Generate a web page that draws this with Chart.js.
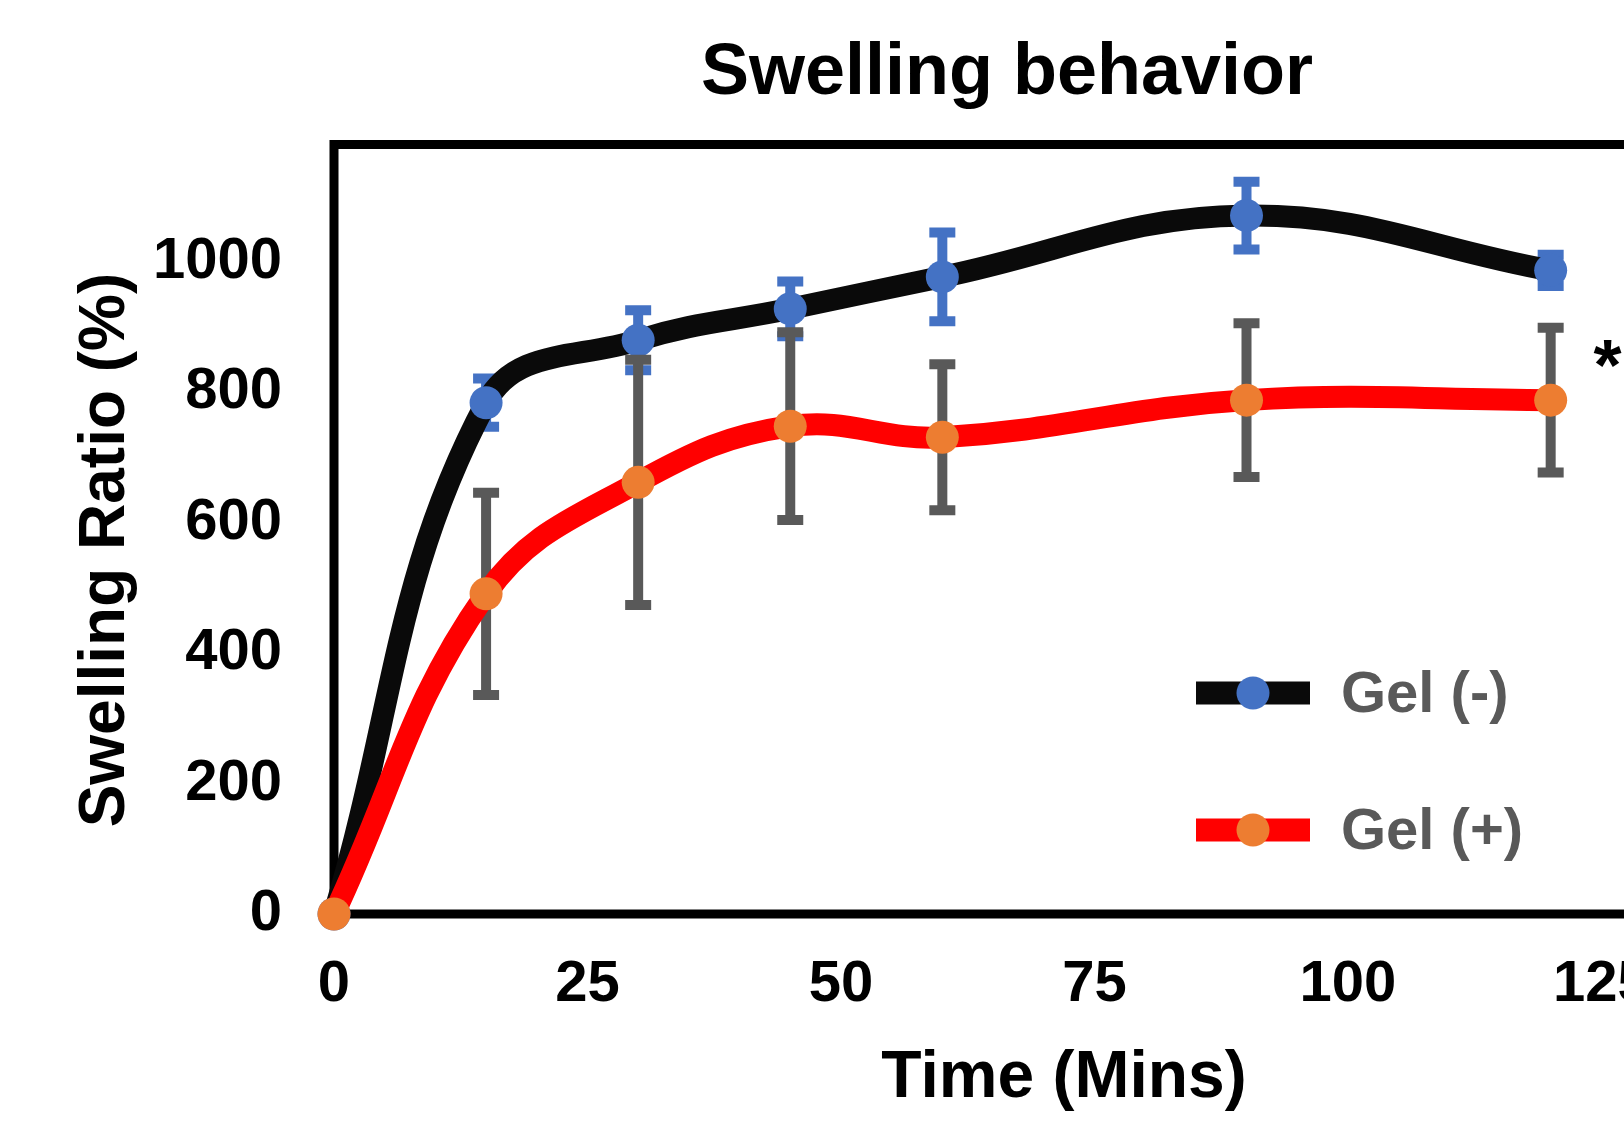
<!DOCTYPE html>
<html>
<head>
<meta charset="utf-8">
<title>Swelling behavior</title>
<script src="https://cdn.jsdelivr.net/npm/chart.js@4.4.1/dist/chart.umd.min.js"></script>
<style>
  html, body { margin: 0; padding: 0; overflow: hidden; background: #fff; }
  #wrap { position: absolute; left: 0; top: 0; width: 1820px; height: 1123px; }
</style>
</head>
<body>
<div id="wrap"><canvas id="swellingChart" width="1820" height="1123"></canvas></div>
<script>
// values (mean and error bar half-length)
const times = [0, 15, 30, 45, 60, 90, 120];
const gelMinus = [0, 784, 880, 928, 977, 1071, 987];
const gelMinusSd = [0, 37, 46, 42, 68, 52, 24];
const gelPlus = [0, 491, 662, 748, 731, 788, 788];
const gelPlusSd = [0, 155, 188, 144, 112, 118, 111];

const xTicks = [0, 25, 50, 75, 100, 125];
const yTicks = [0, 200, 400, 600, 800, 1000];

// significance mark next to the last time point
const starTime = 125.6;
const starValue = 860;

const FONT = '"Liberation Sans", Arial, sans-serif';
Chart.defaults.font.family = FONT;

function toPoints(values) {
    return times.map((t, i) => ({ x: t, y: values[i] }));
}

// black frame round the plot area
const framePlugin = {
    id: 'frame',
    beforeDatasetsDraw(chart) {
        const { ctx, chartArea } = chart;
        ctx.save();
        ctx.strokeStyle = '#000';
        ctx.lineWidth = 9;
        ctx.strokeRect(chartArea.left, chartArea.top, chartArea.right - chartArea.left, chartArea.bottom - chartArea.top);
        ctx.restore();
    }
};

// error bars, drawn under each dataset's line and markers
const errorBarPlugin = {
    id: 'errorBars',
    beforeDatasetDraw(chart, args) {
        const ds = chart.data.datasets[args.index];
        if (!ds.errors) return;
        const xs = chart.scales.x;
        const ys = chart.scales.y;
        const ctx = chart.ctx;
        ctx.save();
        ctx.strokeStyle = ds.errorColor;
        ctx.lineWidth = 10;
        ds.data.forEach((p, i) => {
            const sd = ds.errors[i];
            if (!sd) return;
            const x = xs.getPixelForValue(p.x);
            const top = ys.getPixelForValue(p.y + sd);
            const bot = ys.getPixelForValue(p.y - sd);
            ctx.beginPath();
            ctx.moveTo(x, top);
            ctx.lineTo(x, bot);
            ctx.moveTo(x - 13, top);
            ctx.lineTo(x + 13, top);
            ctx.moveTo(x - 13, bot);
            ctx.lineTo(x + 13, bot);
            ctx.stroke();
        });
        ctx.restore();
    }
};

// titles, legend inside the plot, and the asterisk
const overlayPlugin = {
    id: 'overlay',
    afterDatasetsDraw(chart) {
        const ctx = chart.ctx;
        ctx.save();

        ctx.fillStyle = '#000';
        ctx.font = 'bold 72px ' + FONT;
        ctx.textAlign = 'center';
        ctx.textBaseline = 'alphabetic';
        ctx.fillText('Swelling behavior', 1007, 94);

        // y axis title, a little below the middle of the axis as in the figure
        ctx.save();
        ctx.translate(106, 550);
        ctx.rotate(-Math.PI / 2);
        ctx.font = 'bold 64px ' + FONT;
        ctx.textBaseline = 'middle';
        ctx.fillText('Swelling Ratio (%)', 0, 0);
        ctx.restore();

        // legend rows in dataset order
        chart.data.datasets.forEach((ds, i) => {
            const cy = 693 + i * 137;
            ctx.fillStyle = ds.borderColor;
            ctx.fillRect(1196, cy - 11.5, 114, 23);
            ctx.beginPath();
            ctx.arc(1253, cy, 16.5, 0, Math.PI * 2);
            ctx.fillStyle = ds.pointBackgroundColor;
            ctx.fill();
            ctx.fillStyle = '#595959';
            ctx.font = 'bold 58px ' + FONT;
            ctx.textAlign = 'left';
            ctx.fillText(ds.label, 1341, cy + 19);
        });

        // asterisk
        ctx.font = 'bold 72px ' + FONT;
        ctx.fillStyle = '#000';
        ctx.textAlign = 'center';
        const m = ctx.measureText('*');
        const sx = chart.scales.x.getPixelForValue(starTime);
        const sy = chart.scales.y.getPixelForValue(starValue);
        ctx.fillText('*', sx, sy + (m.actualBoundingBoxAscent - m.actualBoundingBoxDescent) / 2);

        ctx.restore();
    }
};

new Chart(document.getElementById('swellingChart'), {
    type: 'line',
    data: {
        datasets: [
            {
                label: 'Gel (-)',
                data: toPoints(gelMinus),
                borderColor: '#0a0a0a',
                borderWidth: 22,
                borderCapStyle: 'round',
                borderJoinStyle: 'round',
                tension: 0.4,
                pointRadius: 16.5,
                pointHoverRadius: 16.5,
                pointBorderWidth: 0,
                pointBackgroundColor: '#4472c4',
                clip: false,
                order: 2,
                errors: gelMinusSd,
                errorColor: '#4472c4'
            },
            {
                label: 'Gel (+)',
                data: toPoints(gelPlus),
                borderColor: '#ff0000',
                borderWidth: 22,
                borderCapStyle: 'round',
                borderJoinStyle: 'round',
                tension: 0.4,
                pointRadius: 16.5,
                pointHoverRadius: 16.5,
                pointBorderWidth: 0,
                pointBackgroundColor: '#ed7d31',
                clip: false,
                order: 1,
                errors: gelPlusSd,
                errorColor: '#595959'
            }
        ]
    },
    options: {
        responsive: false,
        animation: false,
        events: [],
        layout: { padding: { top: 144.5, right: 26, bottom: 0, left: 0 } },
        plugins: {
            legend: { display: false },
            title: { display: false },
            tooltip: { enabled: false }
        },
        scales: {
            x: {
                type: 'linear',
                min: 0,
                max: 144,
                grid: { display: false, drawTicks: false },
                border: { display: false },
                afterBuildTicks: scale => { scale.ticks = xTicks.map(v => ({ value: v })); },
                afterFit: scale => { scale.height = 209; },
                ticks: {
                    padding: 36,
                    color: '#000',
                    autoSkip: false,
                    maxRotation: 0,
                    font: { size: 58, weight: 'bold' },
                    callback: value => String(value)
                },
                title: {
                    display: true,
                    text: 'Time (Mins)',
                    color: '#000',
                    font: { size: 66, weight: 'bold' },
                    padding: { top: 0, bottom: 5 }
                }
            },
            y: {
                type: 'linear',
                min: 0,
                max: 1180,
                grid: { display: false, drawTicks: false },
                border: { display: false },
                afterBuildTicks: scale => { scale.ticks = yTicks.map(v => ({ value: v })); },
                afterFit: scale => { scale.width = 334; },
                ticks: {
                    padding: 52,
                    color: '#000',
                    font: { size: 58, weight: 'bold' },
                    callback: value => String(value)
                }
            }
        }
    },
    plugins: [framePlugin, errorBarPlugin, overlayPlugin]
});
</script>
</body>
</html>
